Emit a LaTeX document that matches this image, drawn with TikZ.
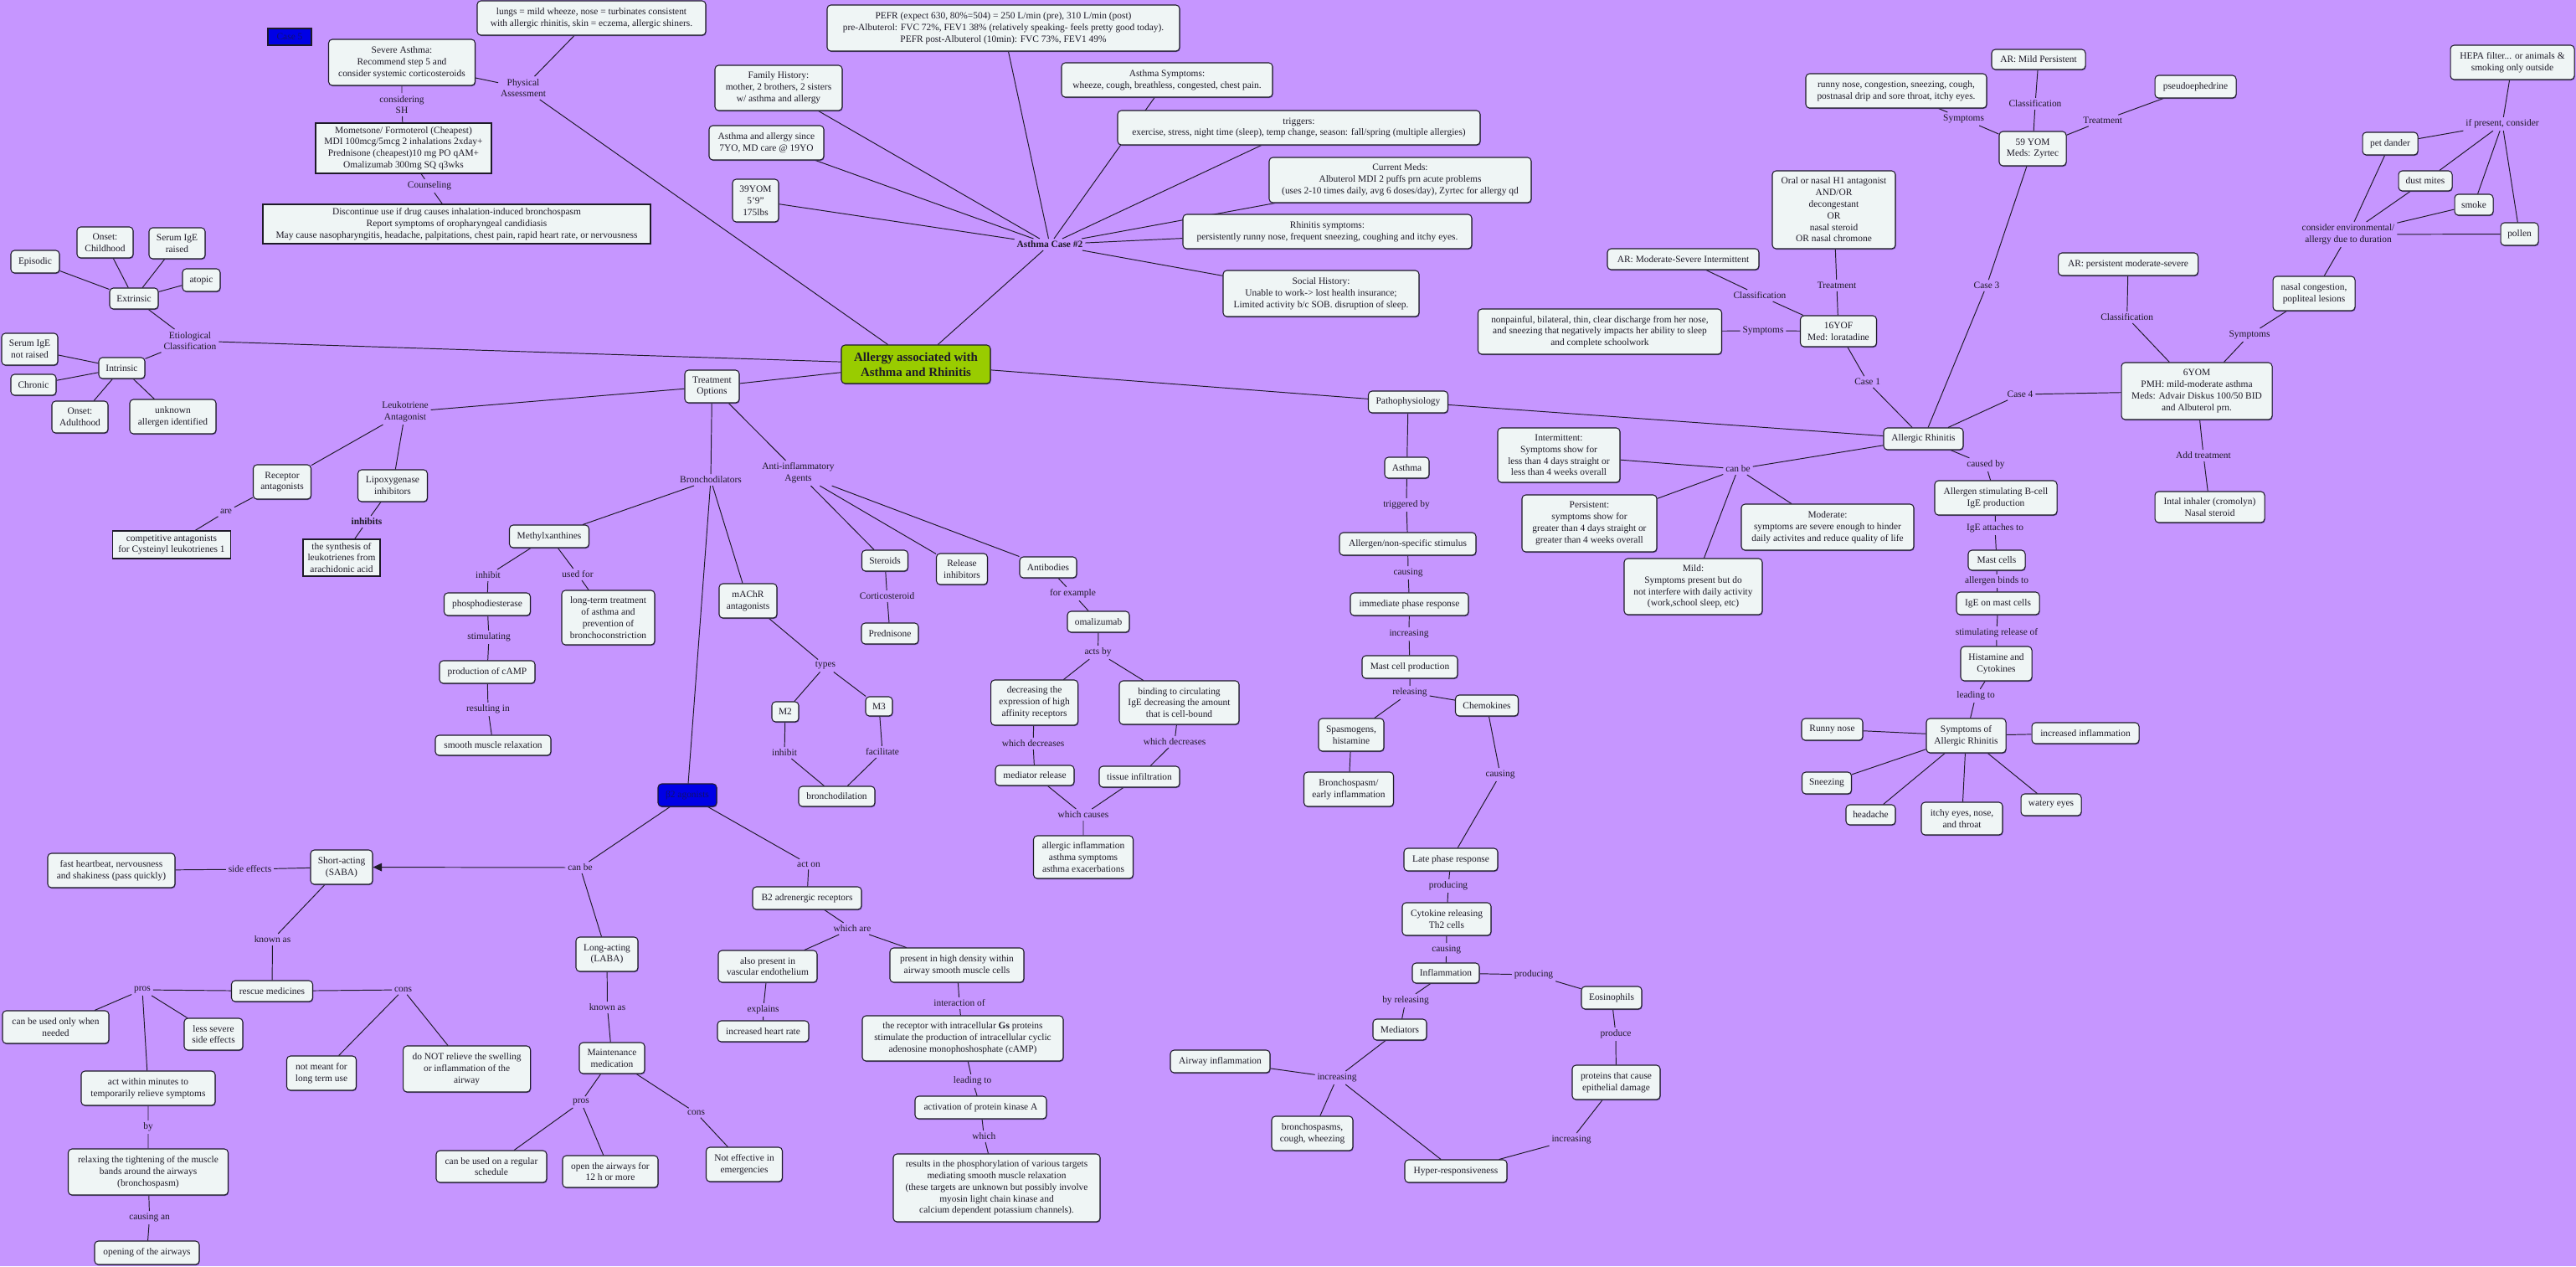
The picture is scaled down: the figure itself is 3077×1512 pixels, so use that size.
\documentclass[tikz,border=0pt]{standalone}
\usepackage{fontspec}
\setmainfont{Liberation Serif}
\usepackage{xcolor}
\definecolor{Lilac}{HTML}{C696FF}
\definecolor{Pale}{HTML}{EFF5F5}
\definecolor{Ink}{HTML}{1E1A28}
\definecolor{Lime}{HTML}{99CC00}
\definecolor{Royal}{HTML}{0000E6}
\definecolor{Deep}{HTML}{10106E}
\definecolor{Shade}{HTML}{54428A}
\usepackage{tikz}
\usetikzlibrary{arrows.meta,backgrounds,shadows}
\pgfdeclarelayer{edges}
\pgfsetlayers{background,edges,main}

\begin{document}
\begin{tikzpicture}[x=0.02cm,y=-0.02cm,
  every node/.style={font=\fontsize{6.5}{7.85}\selectfont,align=center,text=Ink},
  concept/.style={draw=Ink,fill=Pale,rounded corners=2.5pt,line width=0.6pt,inner sep=1pt,
    drop shadow={shadow xshift=0.4pt,shadow yshift=-0.6pt,fill=Shade,opacity=0.9}},
  sharp/.style={draw=Ink,fill=Pale,line width=0.6pt,inner sep=1pt},
  lbl/.style={inner sep=1.5pt},
  link/.style={draw=Ink,line width=0.55pt},
  sz/.style 2 args={minimum width=#1*0.02cm,minimum height=#2*0.02cm}]
\useasboundingbox (0,0) rectangle (3077,1512);
\begin{pgfonlayer}{background}
\fill[Lilac] (0,0) rectangle (3077,1512);
\end{pgfonlayer}

% centre and case 2
\node[concept,fill=Lime,sz={178}{46},font=\fontsize{8.5}{10.3}\selectfont\bfseries] (cen) at (1094,435) {Allergy associated with\\Asthma and Rhinitis};
\node[lbl] (case2) at (1254,292) {\textbf{Asthma Case \#2}};
\node[concept,sz={421}{55}] (pefr) at (1198.5,33.5) {PEFR (expect 630, 80\%=504) = 250 L/min (pre), 310 L/min (post)\\pre-Albuterol: FVC 72\%, FEV1 38\% (relatively speaking- feels pretty good today).\\PEFR post-Albuterol (10min): FVC 73\%, FEV1 49\%};
\node[concept,sz={152}{54}] (famhx) at (930,105) {Family History:\\mother, 2 brothers, 2 sisters\\w/ asthma and allergy};
\node[concept,sz={137}{41}] (since) at (915.5,170.5) {Asthma and allergy since\\7YO, MD care @ 19YO};
\node[concept,sz={55}{51}] (yom39) at (902.5,239.5) {39YOM\\5'9''\\175lbs};
\node[concept,sz={252}{41}] (asym) at (1394,95.5) {Asthma Symptoms:\\wheeze, cough, breathless, congested, chest pain.};
\node[concept,sz={433}{41}] (trig) at (1551.5,152.5) {triggers:\\exercise, stress, night time (sleep), temp change, season: fall/spring (multiple allergies)};
\node[concept,sz={313}{54}] (meds) at (1672.5,215) {Current Meds:\\Albuterol MDI 2 puffs prn acute problems\\(uses 2-10 times daily, avg 6 doses/day), Zyrtec for allergy qd};
\node[concept,sz={345}{41}] (rsym) at (1585.5,276.5) {Rhinitis symptoms:\\persistently runny nose, frequent sneezing, coughing and itchy eyes.};
\node[concept,sz={234}{55}] (social) at (1578,350.5) {Social History:\\Unable to work-> lost health insurance;\\Limited activity b/c SOB. disruption of sleep.};

% case 5
\node[sharp,fill=Royal,text=Deep,sz={52}{20}] (case5) at (346,44) {Case 5};
\node[lbl] (physA) at (625,105) {Physical\\Assessment};
\node[concept,sz={273}{41}] (lungs) at (706.5,21.5) {lungs = mild wheeze, nose = turbinates consistent\\with allergic rhinitis, skin = eczema, allergic shiners.};
\node[concept,sz={175}{55}] (severe) at (480,74.5) {Severe Asthma:\\Recommend step 5 and\\consider systemic corticosteroids};
\node[lbl] (consSH) at (480,125) {considering\\SH};
\node[sharp,sz={210}{60}] (mome) at (482,177) {Mometsone/ Formoterol (Cheapest)\\MDI 100mcg/5mcg 2 inhalations 2xday+\\Prednisone (cheapest)10 mg PO qAM+\\Omalizumab 300mg SQ q3wks};
\node[lbl] (couns) at (513,222) {Counseling};
\node[sharp,sz={463}{47}] (disc) at (545.5,267.5) {Discontinue use if drug causes inhalation-induced bronchospasm\\Report symptoms of oropharyngeal candidiasis\\May cause nasopharyngitis, headache, palpitations, chest pain, rapid heart rate, or nervousness};

% etiology
\node[lbl] (etio) at (227,407) {Etiological\\Classification};
\node[concept,sz={58}{25}] (extr) at (160,356.5) {Extrinsic};
\node[concept,sz={58}{27}] (episodic) at (42,312.5) {Episodic};
\node[concept,sz={67}{37}] (onsetC) at (125.5,289.5) {Onset:\\Childhood};
\node[concept,sz={67}{37}] (igeR) at (211.5,290.5) {Serum IgE\\raised};
\node[concept,sz={45}{27}] (atopic) at (240.5,334.5) {atopic};
\node[concept,sz={55}{25}] (intr) at (145.5,439.5) {Intrinsic};
\node[concept,sz={67}{38}] (igeNR) at (35.5,417) {Serum IgE\\not raised};
\node[concept,sz={54}{25}] (chronic) at (40,459.5) {Chronic};
\node[concept,sz={67}{38}] (onsetA) at (95.5,498) {Onset:\\Adulthood};
\node[concept,sz={103}{41}] (unknown) at (206.5,497.5) {unknown\\allergen identified};

% treatment
\node[concept,sz={65}{39}] (treat) at (850.5,461.5) {Treatment\\Options};
\node[lbl] (leuko) at (484,492) {Leukotriene\\Antagonist};
\node[concept,sz={69}{41}] (recept) at (337,575.5) {Receptor\\antagonists};
\node[concept,sz={83}{38}] (lipox) at (469,580) {Lipoxygenase\\inhibitors};
\node[lbl] (are) at (270,611) {are};
\node[sharp,sz={141}{33}] (compet) at (205,650.5) {competitive antagonists\\for Cysteinyl leukotrienes 1};
\node[lbl] (inhibits) at (438,623) {\textbf{inhibits}};
\node[sharp,sz={92}{44}] (synth) at (408,666) {the synthesis of\\leukotrienes from\\arachidonic acid};
\node[lbl] (bronch) at (849,573) {Bronchodilators};
\node[lbl] (antiinf) at (953.5,565) {Anti-inflammatory\\Agents};
\node[concept,sz={95}{27}] (methyl) at (656,640.5) {Methylxanthines};
\node[lbl] (inhM) at (583,687) {inhibit};
\node[lbl] (usedfor) at (690,686) {used for};
\node[concept,sz={103}{27}] (pde) at (582,721.5) {phosphodiesterase};
\node[concept,sz={111}{65}] (longterm) at (726.5,737.5) {long-term treatment\\of asthma and\\prevention of\\bronchoconstriction};
\node[lbl] (stim) at (584,761) {stimulating};
\node[concept,sz={114}{27}] (camp) at (582,802.5) {production of cAMP};
\node[lbl] (result) at (583,847) {resulting in};
\node[concept,sz={138}{24}] (smooth) at (589,890) {smooth muscle relaxation};
\node[concept,sz={69}{41}] (machr) at (893.5,717.5) {mAChR\\antagonists};
\node[lbl] (types) at (986,795) {types};
\node[concept,sz={32}{24}] (m2) at (938,850) {M2};
\node[concept,sz={32}{23}] (m3) at (1050,843.5) {M3};
\node[lbl] (inhM2) at (937,899) {inhibit};
\node[lbl] (facil) at (1054,898) {facilitate};
\node[concept,sz={91}{24}] (bdil) at (999.5,951) {bronchodilation};
\node[concept,sz={55}{25}] (steroids) at (1057,669.5) {Steroids};
\node[concept,sz={61}{37}] (release) at (1149,679.5) {Release\\inhibitors};
\node[concept,sz={68}{25}] (antib) at (1252,677.5) {Antibodies};
\node[lbl] (cortico) at (1059.6,712) {Corticosteroid};
\node[concept,sz={68}{25}] (pred) at (1063,756.5) {Prednisone};
\node[lbl] (forex) at (1281.5,709) {for example};
\node[concept,sz={74}{25}] (omal) at (1312,742.5) {omalizumab};
\node[lbl] (actsby) at (1311.6,779) {acts by};
\node[concept,sz={104}{54}] (decr) at (1235.6,839) {decreasing the\\expression of high\\affinity receptors};
\node[concept,sz={143}{52}] (bind) at (1408.5,839) {binding to circulating\\IgE decreasing the amount\\that is cell-bound};
\node[lbl] (wd1) at (1234,888) {which decreases};
\node[lbl] (wd2) at (1403,886) {which decreases};
\node[concept,sz={94}{24}] (medrel) at (1236,926) {mediator release};
\node[concept,sz={96}{25}] (tissue) at (1361,927.5) {tissue infiltration};
\node[lbl] (wcauses) at (1294,973) {which causes};
\node[concept,sz={119}{51}] (allinfl) at (1294,1023.5) {allergic inflammation\\asthma symptoms\\asthma exacerbations};

% beta2 agonists
\node[concept,fill=Royal,text=Deep,sz={70}{27}] (beta) at (821,949.5) {β2 agonists};
\node[lbl] (canbe) at (693,1036) {can be};
\node[lbl] (acton) at (966,1032) {act on};
\node[concept,sz={74}{41}] (saba) at (408,1035.5) {Short-acting\\(SABA)};
\node[concept,sz={152}{41}] (fast) at (133,1039.5) {fast heartbeat, nervousness\\and shakiness (pass quickly)};
\node[lbl] (sideeff) at (298.5,1038) {side effects};
\node[lbl] (known1) at (325.5,1122) {known as};
\node[concept,sz={74}{41}] (laba) at (725,1139.5) {Long-acting\\(LABA)};
\node[concept,sz={97}{25}] (rescue) at (325,1183.5) {rescue medicines};
\node[lbl] (pros1) at (170,1182) {pros};
\node[lbl] (cons1) at (481.6,1182) {cons};
\node[lbl] (known2) at (725.5,1203) {known as};
\node[concept,sz={127}{39}] (onlyneed) at (66.5,1226.5) {can be used only when\\needed};
\node[concept,sz={70}{38}] (lesssev) at (255,1235) {less severe\\side effects};
\node[concept,sz={83}{41}] (notmeant) at (384,1281.5) {not meant for\\long term use};
\node[concept,sz={152}{55}] (donot) at (557.6,1276.5) {do NOT relieve the swelling\\or inflammation of the\\airway};
\node[concept,sz={78}{37}] (maint) at (731,1263.5) {Maintenance\\medication};
\node[concept,sz={160}{41}] (actwithin) at (177,1299.5) {act within minutes to\\temporarily relieve symptoms};
\node[lbl] (pros2) at (694,1316) {pros};
\node[lbl] (cons2) at (831.5,1329) {cons};
\node[lbl] (by) at (177,1346) {by};
\node[concept,sz={132}{38}] (regular) at (587,1393) {can be used on a regular\\schedule};
\node[concept,sz={114}{38}] (open12) at (729,1399) {open the airways for\\12 h or more};
\node[concept,sz={91}{41}] (noteff) at (889,1390.5) {Not effective in\\emergencies};
\node[concept,sz={191}{55}] (relaxing) at (177,1399.5) {relaxing the tightening of the muscle\\bands around the airways\\(bronchospasm)};
\node[lbl] (causan) at (178.6,1454) {causing an};
\node[concept,sz={125}{28}] (opening) at (175.5,1496) {opening of the airways};
\node[concept,sz={130}{27}] (b2r) at (964,1072.5) {B2 adrenergic receptors};
\node[lbl] (whichare) at (1018,1109) {which are};
\node[concept,sz={118}{38}] (vasc) at (917,1154) {also present in\\vascular endothelium};
\node[concept,sz={160}{41}] (density) at (1143,1152.5) {present in high density within\\airway smooth muscle cells};
\node[lbl] (explains) at (911.6,1206) {explains};
\node[concept,sz={109}{25}] (hr) at (911.5,1231.5) {increased heart rate};
\node[lbl] (interof) at (1146,1198) {interaction of};
\node[concept,sz={240}{54}] (recbox) at (1150,1240) {the receptor with intracellular \textbf{Gs} proteins\\stimulate the production of intracellular cyclic\\adenosine monophoshosphate (cAMP)};
\node[lbl] (leadto) at (1161.6,1291) {leading to};
\node[concept,sz={157}{27}] (pka) at (1171.5,1322.5) {activation of protein kinase A};
\node[lbl] (which) at (1175.4,1357) {which};
\node[concept,sz={247}{81}] (results) at (1190.5,1418.5) {results in the phosphorylation of various targets\\mediating smooth muscle relaxation\\(these targets are unknown but possibly involve\\myosin light chain kinase and\\calcium dependent potassium channels).};

% pathophysiology
\node[concept,sz={95}{26}] (patho) at (1682,480) {Pathophysiology};
\node[concept,sz={53}{25}] (asthma) at (1680.5,558.5) {Asthma};
\node[lbl] (trigby) at (1680,603) {triggered by};
\node[concept,sz={163}{27}] (allergen) at (1681.5,649.5) {Allergen/non-specific stimulus};
\node[lbl] (causing1) at (1682,684) {causing};
\node[concept,sz={141}{27}] (immed) at (1683.5,721.5) {immediate phase response};
\node[lbl] (incr1) at (1683,757) {increasing};
\node[concept,sz={114}{27}] (mastprod) at (1684,796.5) {Mast cell production};
\node[lbl] (releasing) at (1684,827) {releasing};
\node[concept,sz={75}{25}] (chemo) at (1776,842.5) {Chemokines};
\node[concept,sz={78}{39}] (spasm) at (1614,877.5) {Spasmogens,\\histamine};
\node[concept,sz={107}{41}] (bsp1) at (1611,942.5) {Bronchospasm/\\early inflammation};
\node[lbl] (causing2) at (1792,925) {causing};
\node[concept,sz={112}{27}] (late) at (1733,1026.5) {Late phase response};
\node[lbl] (producing1) at (1730,1058) {producing};
\node[concept,sz={106}{39}] (cyto) at (1728,1097.5) {Cytokine releasing\\Th2 cells};
\node[lbl] (causing3) at (1727.7,1134) {causing};
\node[concept,sz={80}{24}] (infl) at (1727,1162) {Inflammation};
\node[lbl] (producing2) at (1832,1164) {producing};
\node[concept,sz={72}{27}] (eos) at (1925,1191.5) {Eosinophils};
\node[lbl] (byrel) at (1679,1195) {by releasing};
\node[concept,sz={64}{25}] (mediators) at (1672,1229.5) {Mediators};
\node[lbl] (produce) at (1930,1235) {produce};
\node[concept,sz={105}{41}] (proteins) at (1930.5,1292.5) {proteins that cause\\epithelial damage};
\node[lbl] (incr2) at (1597,1287) {increasing};
\node[lbl] (incr3) at (1877,1361) {increasing};
\node[concept,sz={122}{27}] (hyper) at (1739,1398.5) {Hyper-responsiveness};
\node[concept,sz={97}{41}] (bsp2) at (1567.5,1353.5) {bronchospasms,\\cough, wheezing};
\node[concept,sz={119}{27}] (airway) at (1457.5,1267.5) {Airway inflammation};

% allergic rhinitis
\node[concept,sz={95}{26}] (allrh) at (2297.5,524) {Allergic Rhinitis};
\node[lbl] (canbe2) at (2076,560) {can be};
\node[concept,sz={146}{65}] (interm) at (1862,543.5) {Intermittent:\\Symptoms show for\\less than 4 days straight or\\less than 4 weeks overall};
\node[concept,sz={161}{68}] (persist) at (1898.5,625) {Persistent:\\symptoms show for\\greater than 4 days straight or\\greater than 4 weeks overall};
\node[concept,sz={206}{55}] (moder) at (2183,629.5) {Moderate:\\symptoms are severe enough to hinder\\daily activites and reduce quality of life};
\node[concept,sz={165}{67}] (mild) at (2022.5,700.5) {Mild:\\Symptoms present but do\\not interfere with daily activity\\(work,school sleep, etc)};
\node[lbl] (causedby) at (2372,555) {caused by};
\node[concept,sz={146}{41}] (allergB) at (2384,594.5) {Allergen stimulating B-cell\\IgE production};
\node[lbl] (igeatt) at (2383,631) {IgE attaches to};
\node[concept,sz={68}{24}] (mastcells) at (2385,669) {Mast cells};
\node[lbl] (binds) at (2385,694) {allergen binds to};
\node[concept,sz={99}{27}] (igeon) at (2386.5,720.5) {IgE on mast cells};
\node[lbl] (stimrel) at (2385,756) {stimulating release of};
\node[concept,sz={85}{41}] (histcy) at (2384.5,792.5) {Histamine and\\Cytokines};
\node[lbl] (leadto2) at (2360,831) {leading to};
\node[concept,sz={95}{41}] (symar) at (2348.5,878.5) {Symptoms of\\Allergic Rhinitis};
\node[concept,sz={128}{25}] (incinfl) at (2491,875.5) {increased inflammation};
\node[concept,sz={72}{26}] (watery) at (2450,961) {watery eyes};
\node[concept,sz={97}{39}] (itchy) at (2343.5,977.5) {itchy eyes, nose,\\and throat};
\node[concept,sz={73}{26}] (runny) at (2188.5,871) {Runny nose};
\node[concept,sz={59}{26}] (sneez) at (2182,935) {Sneezing};
\node[concept,sz={59}{24}] (headache) at (2234.5,973) {headache};

% cases 1, 3, 4
\node[lbl] (case1) at (2230.7,456) {Case 1};
\node[concept,sz={91}{37}] (yof16) at (2196,395.5) {16YOF\\Med: loratadine};
\node[lbl] (class1) at (2102,353) {Classification};
\node[concept,sz={181}{25}] (armsi) at (2010.5,309.5) {AR: Moderate-Severe Intermittent};
\node[lbl] (treat1) at (2194,341) {Treatment};
\node[concept,sz={147}{93}] (oral) at (2190.5,250.5) {Oral or nasal H1 antagonist\\AND/OR\\decongestant\\OR\\nasal steroid\\OR nasal chromone};
\node[lbl] (sym1) at (2106,395) {Symptoms};
\node[concept,sz={291}{54}] (nonpain) at (1911,396) {nonpainful, bilateral, thin, clear discharge from her nose,\\and sneezing that negatively impacts her ability to sleep\\and complete schoolwork};
\node[lbl] (case3) at (2373,341) {Case 3};
\node[concept,sz={80}{41}] (yom59) at (2428,177.5) {59 YOM\\Meds: Zyrtec};
\node[lbl] (class3) at (2431,124) {Classification};
\node[concept,sz={112}{24}] (armp) at (2435,71) {AR: Mild Persistent};
\node[lbl] (sym3) at (2345.6,142) {Symptoms};
\node[concept,sz={216}{41}] (runnybox) at (2265,108.5) {runny nose, congestion, sneezing, cough,\\postnasal drip and sore throat, itchy eyes.};
\node[lbl] (treat3) at (2511.7,144) {Treatment};
\node[concept,sz={97}{27}] (pseudo) at (2622.5,103.5) {pseudoephedrine};
\node[lbl] (case4) at (2413,471) {Case 4};
\node[concept,sz={180}{68}] (yom6) at (2624,467) {6YOM\\PMH: mild-moderate asthma\\Meds: Advair Diskus 100/50 BID\\and Albuterol prn.};
\node[lbl] (class4) at (2540.7,379) {Classification};
\node[concept,sz={167}{27}] (arpms) at (2542,315.5) {AR: persistent moderate-severe};
\node[lbl] (sym4) at (2687,400) {Symptoms};
\node[concept,sz={98}{41}] (nasal) at (2764,350.5) {nasal congestion,\\popliteal lesions};
\node[lbl] (addtr) at (2632,544) {Add treatment};
\node[concept,sz={131}{37}] (intal) at (2639.5,605.5) {Intal inhaler (cromolyn)\\Nasal steroid};
\node[lbl] (consenv) at (2805,280) {consider environmental/\\allergy due to duration};
\node[concept,sz={66}{27}] (petd) at (2855,171.5) {pet dander};
\node[concept,sz={64}{24}] (dust) at (2897,216) {dust mites};
\node[concept,sz={46}{25}] (smoke) at (2955,244.5) {smoke};
\node[concept,sz={45}{27}] (pollen) at (3009.5,279.5) {pollen};
\node[lbl] (ifpres) at (2989,148) {if present, consider};
\node[concept,sz={148}{41}] (hepa) at (3001,74.5) {HEPA filter... or animals \&\\smoking only outside};

\begin{pgfonlayer}{edges}
\draw[link] (cen)--(physA) (physA)--(severe) (physA)--(lungs);
\draw[link] (severe)--(consSH) (consSH)--(mome) (mome)--(couns) (couns)--(disc);
\draw[link] (cen)--(case2) (case2)--(pefr) (case2)--(famhx) (case2)--(since) (case2)--(yom39);
\draw[link] (case2)--(asym) (case2)--(trig) (case2)--(meds) (case2)--(rsym) (case2)--(social);
\draw[link] (cen)--(etio) (etio)--(extr) (etio)--(intr);
\draw[link] (extr)--(episodic) (extr)--(onsetC) (extr)--(igeR) (extr)--(atopic);
\draw[link] (intr)--(igeNR) (intr)--(chronic) (intr)--(onsetA) (intr)--(unknown);
\draw[link] (cen)--(treat) (treat)--(leuko) (treat)--(bronch) (treat)--(antiinf);
\draw[link] (leuko)--(recept) (leuko)--(lipox) (recept)--(are) (are)--(compet) (lipox)--(inhibits) (inhibits)--(synth);
\draw[link] (bronch)--(methyl) (bronch)--(machr) (bronch)--(beta);
\draw[link] (methyl)--(inhM) (inhM)--(pde) (pde)--(stim) (stim)--(camp) (camp)--(result) (result)--(smooth) (methyl)--(usedfor) (usedfor)--(longterm);
\draw[link] (machr)--(types) (types)--(m2) (types)--(m3) (m2)--(inhM2) (inhM2)--(bdil) (m3)--(facil) (facil)--(bdil);
\draw[link] (antiinf)--(steroids) (antiinf)--(release) (antiinf)--(antib) (steroids)--(cortico) (cortico)--(pred);
\draw[link] (antib)--(forex) (forex)--(omal) (omal)--(actsby) (actsby)--(decr) (actsby)--(bind);
\draw[link] (decr)--(wd1) (wd1)--(medrel) (bind)--(wd2) (wd2)--(tissue) (medrel)--(wcauses) (tissue)--(wcauses) (wcauses)--(allinfl);
\draw[link] (beta)--(canbe) (canbe)--(laba) (beta)--(acton) (acton)--(b2r);
\draw[link,-{Triangle[length=6pt,width=5.5pt]}] (canbe)--(saba);
\draw[link] (saba)--(sideeff) (sideeff)--(fast) (saba)--(known1) (known1)--(rescue);
\draw[link] (rescue)--(pros1) (rescue)--(cons1) (pros1)--(onlyneed) (pros1)--(lesssev) (pros1)--(actwithin) (cons1)--(notmeant) (cons1)--(donot);
\draw[link] (actwithin)--(by) (by)--(relaxing) (relaxing)--(causan) (causan)--(opening);
\draw[link] (laba)--(known2) (known2)--(maint) (maint)--(pros2) (maint)--(cons2) (pros2)--(regular) (pros2)--(open12) (cons2)--(noteff);
\draw[link] (b2r)--(whichare) (whichare)--(vasc) (whichare)--(density) (vasc)--(explains) (explains)--(hr);
\draw[link] (density)--(interof) (interof)--(recbox) (recbox)--(leadto) (leadto)--(pka) (pka)--(which) (which)--(results);
\draw[link] (cen)--(patho) (patho)--(asthma) (patho)--(allrh);
\draw[link] (asthma)--(trigby) (trigby)--(allergen) (allergen)--(causing1) (causing1)--(immed) (immed)--(incr1) (incr1)--(mastprod) (mastprod)--(releasing);
\draw[link] (releasing)--(spasm) (releasing)--(chemo) (spasm)--(bsp1);
\draw[link] (chemo)--(causing2) (causing2)--(late) (late)--(producing1) (producing1)--(cyto) (cyto)--(causing3) (causing3)--(infl);
\draw[link] (infl)--(producing2) (producing2)--(eos) (eos)--(produce) (produce)--(proteins) (proteins)--(incr3) (incr3)--(hyper);
\draw[link] (infl)--(byrel) (byrel)--(mediators) (mediators)--(incr2) (incr2)--(airway) (incr2)--(bsp2) (incr2)--(hyper);
\draw[link] (allrh)--(canbe2) (canbe2)--(interm) (canbe2)--(persist) (canbe2)--(mild) (canbe2)--(moder);
\draw[link] (allrh)--(causedby) (causedby)--(allergB) (allergB)--(igeatt) (igeatt)--(mastcells) (mastcells)--(binds) (binds)--(igeon) (igeon)--(stimrel) (stimrel)--(histcy) (histcy)--(leadto2) (leadto2)--(symar);
\draw[link] (symar)--(runny) (symar)--(sneez) (symar)--(headache) (symar)--(itchy) (symar)--(watery) (symar)--(incinfl);
\draw[link] (allrh)--(case1) (case1)--(yof16) (yof16)--(class1) (class1)--(armsi) (yof16)--(treat1) (treat1)--(oral) (yof16)--(sym1) (sym1)--(nonpain);
\draw[link] (allrh)--(case3) (case3)--(yom59) (yom59)--(class3) (class3)--(armp) (yom59)--(sym3) (sym3)--(runnybox) (yom59)--(treat3) (treat3)--(pseudo);
\draw[link] (allrh)--(case4) (case4)--(yom6) (yom6)--(class4) (class4)--(arpms) (yom6)--(sym4) (sym4)--(nasal) (yom6)--(addtr) (addtr)--(intal);
\draw[link] (nasal)--(consenv) (consenv)--(petd) (consenv)--(dust) (consenv)--(smoke) (consenv)--(pollen);
\draw[link] (ifpres)--(hepa) (ifpres)--(petd) (ifpres)--(dust) (ifpres)--(smoke) (ifpres)--(pollen);
\end{pgfonlayer}
\end{tikzpicture}
\end{document}
